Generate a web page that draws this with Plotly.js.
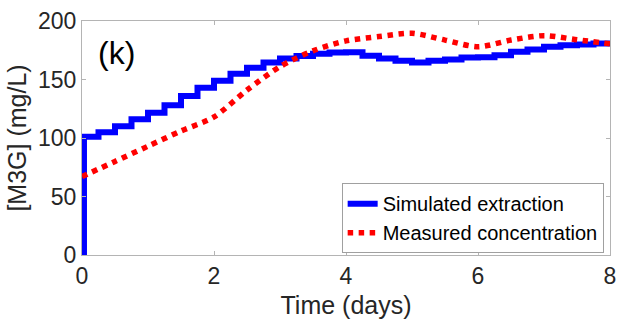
<!DOCTYPE html>
<html>
<head>
<meta charset="utf-8">
<script src="https://cdn.plot.ly/plotly-3.0.1.min.js"></script>
<style>
html,body{margin:0;padding:0;background:#fff;}
#chart{width:619px;height:329px;}
</style>
</head>
<body>
<div id="chart"></div>
<script>
// Simulated extraction (step levels; each value holds until the next time)
const simTime = [0.03, 0.03, 0.25, 0.5, 0.75, 1.0, 1.25, 1.5, 1.75, 2.0, 2.25, 2.5, 2.75, 3.0, 3.25, 3.5, 3.75,
                 4.0, 4.25, 4.5, 4.75, 5.0, 5.25, 5.5, 5.75, 6.0, 6.25, 6.5, 6.75, 7.0, 7.25, 7.5, 7.75, 8.0];
const simValue = [0, 101, 105, 110, 116, 121.5, 128, 136, 143, 149, 155, 160, 164.6, 168, 170, 172, 173,
                  173.3, 170.2, 168, 166, 164.6, 166, 167, 168.8, 169, 170.7, 173.8, 175.7, 178, 179.3, 180, 180.7, 180.7];

// Measured concentration
const measTime = [0, 0.5, 1.0, 1.5, 2.0, 2.5, 3.0, 3.5, 4.0, 4.5, 5.0, 5.5, 6.0, 6.5, 7.0, 7.5, 8.0];
const measValue = [67, 80, 93, 106, 118, 141, 161, 174.5, 183, 186.7, 189.5, 183.7, 178, 183.7, 187.5, 184, 180.5];

const xTicks = [0, 2, 4, 6, 8];
const yTicks = [0, 50, 100, 150, 200];
const seriesNames = ['Simulated extraction', 'Measured concentration'];
const panelLabel = '(k)';

const FONT = 'Liberation Sans, Arial, Helvetica, sans-serif';
const TXT = '#262626';
const AX = '#b4b4b4';

const traces = [
  {
    x: simTime, y: simValue, type: 'scatter', mode: 'lines', name: seriesNames[0],
    line: {color: '#0000ff', width: 6, shape: 'hv'}
  },
  {
    x: measTime, y: measValue, type: 'scatter', mode: 'lines', name: seriesNames[1],
    line: {color: '#ff0000', width: 5.5, dash: 'dot', shape: 'spline', smoothing: 0.8}
  }
];

const layout = {
  width: 619, height: 329,
  margin: {l: 82, r: 8, t: 16, b: 74, pad: 0},
  paper_bgcolor: '#fff', plot_bgcolor: '#fff',
  font: {family: FONT, color: TXT, size: 23},
  showlegend: true,
  legend: {
    x: 0.988, y: 0.008, xanchor: 'right', yanchor: 'bottom',
    bgcolor: '#fff', bordercolor: '#a0a0a0', borderwidth: 1,
    font: {family: FONT, size: 20, color: '#000'},
    tracegroupgap: 0
  },
  xaxis: {
    range: [0, 8], tickvals: xTicks, ticktext: xTicks.map(String),
    showgrid: false, zeroline: false,
    showline: true, linecolor: AX, linewidth: 1, mirror: 'ticks',
    ticks: 'inside', ticklen: 4, tickcolor: AX,
    tickfont: {family: FONT, size: 23, color: TXT},
    title: {text: 'Time (days)', font: {family: FONT, size: 25, color: TXT}, standoff: 8}
  },
  yaxis: {
    range: [0, 200], tickvals: yTicks, ticktext: yTicks.map(String),
    showgrid: false, zeroline: false, automargin: true,
    showline: true, linecolor: AX, linewidth: 1, mirror: 'ticks',
    ticks: 'inside', ticklen: 4, tickcolor: AX,
    tickfont: {family: FONT, size: 23, color: TXT},
    title: {text: '[M3G] (mg/L)', font: {family: FONT, size: 25, color: TXT}, standoff: 4}
  },
  annotations: [{
    text: panelLabel, xref: 'paper', yref: 'paper', x: 0.026, y: 0.862,
    xanchor: 'left', yanchor: 'middle', showarrow: false,
    font: {family: FONT, size: 32, color: '#000'}
  }]
};

Plotly.newPlot('chart', traces, layout, {displayModeBar: false, staticPlot: true});
</script>
</body>
</html>
